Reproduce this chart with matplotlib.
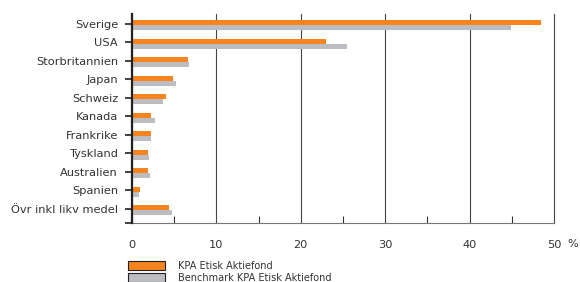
import matplotlib.pyplot as plt
from matplotlib.patches import Patch
from matplotlib.ticker import MultipleLocator

# Data (percent of fund)
countries = ['Sverige', 'USA', 'Storbritannien', 'Japan', 'Schweiz', 'Kanada',
             'Frankrike', 'Tyskland', 'Australien', 'Spanien', 'Övr inkl likv medel']
fund = [48.5, 23.0, 6.6, 4.85, 4.0, 2.25, 2.25, 1.9, 1.9, 0.95, 4.4]
benchmark = [44.9, 25.5, 6.75, 5.2, 3.65, 2.75, 2.25, 2.0, 2.1, 0.8, 4.75]
series_names = ['KPA Etisk Aktiefond', 'Benchmark KPA Etisk Aktiefond']

orange = '#F6851F'
grey = '#BCBDC0'
txt = '#333333'

plt.rcParams['font.family'] = 'DejaVu Sans'

fig = plt.figure(figsize=(5.8, 2.82), dpi=100)
ax = fig.add_axes([132/580, 59/282, 422/580, 209/282])

pos = list(range(len(countries)))
h = 0.27
ax.barh([p - 0.19 for p in pos], fund, height=h, color=orange, align='edge', zorder=3)
ax.barh([p + 0.08 for p in pos], benchmark, height=h, color=grey, align='edge', zorder=3)

ax.set_xlim(0, 50)
ax.set_ylim(10.78, -0.54)

# y ticks at each category plus the bottom edge
ax.set_yticks(pos + [10.78])
ax.set_yticklabels(countries + [''], fontsize=8.2, color=txt)
ax.tick_params(axis='y', direction='out', length=5, width=1.2, color='#222222', pad=5)

ax.set_xticks(range(0, 51, 10))
ax.xaxis.set_minor_locator(MultipleLocator(5))
ax.tick_params(axis='x', which='major', length=0, pad=12, labelsize=8.2, labelcolor=txt)
ax.tick_params(axis='x', which='minor', direction='in', length=5, width=0.8, color='#333333')
ax.text(1.045, -0.1, '%', transform=ax.transAxes, fontsize=8.2, color=txt,
        ha='center', va='center')

ax.grid(axis='x', which='major', color='#444444', linewidth=0.8, zorder=1)
for gl in ax.get_xgridlines():
    gl.set_clip_on(False)

for s in ['top', 'right']:
    ax.spines[s].set_visible(False)
ax.spines['left'].set_color('#222222')
ax.spines['left'].set_linewidth(1.6)
ax.spines['left'].set_zorder(4)
ax.spines['bottom'].set_color('#777777')
ax.spines['bottom'].set_linewidth(0.8)

handles = [Patch(facecolor=orange, edgecolor='#222222', linewidth=0.8),
           Patch(facecolor=grey, edgecolor='#222222', linewidth=0.8)]
fig.legend(handles, series_names, loc='upper left', bbox_to_anchor=(128/580, 21/282),
           frameon=False, fontsize=7.0, handlelength=3.8, handleheight=1.03,
           labelspacing=0.2, handletextpad=1.35, borderpad=0, borderaxespad=0,
           labelcolor=txt)

fig.savefig('out.png', dpi=100)
